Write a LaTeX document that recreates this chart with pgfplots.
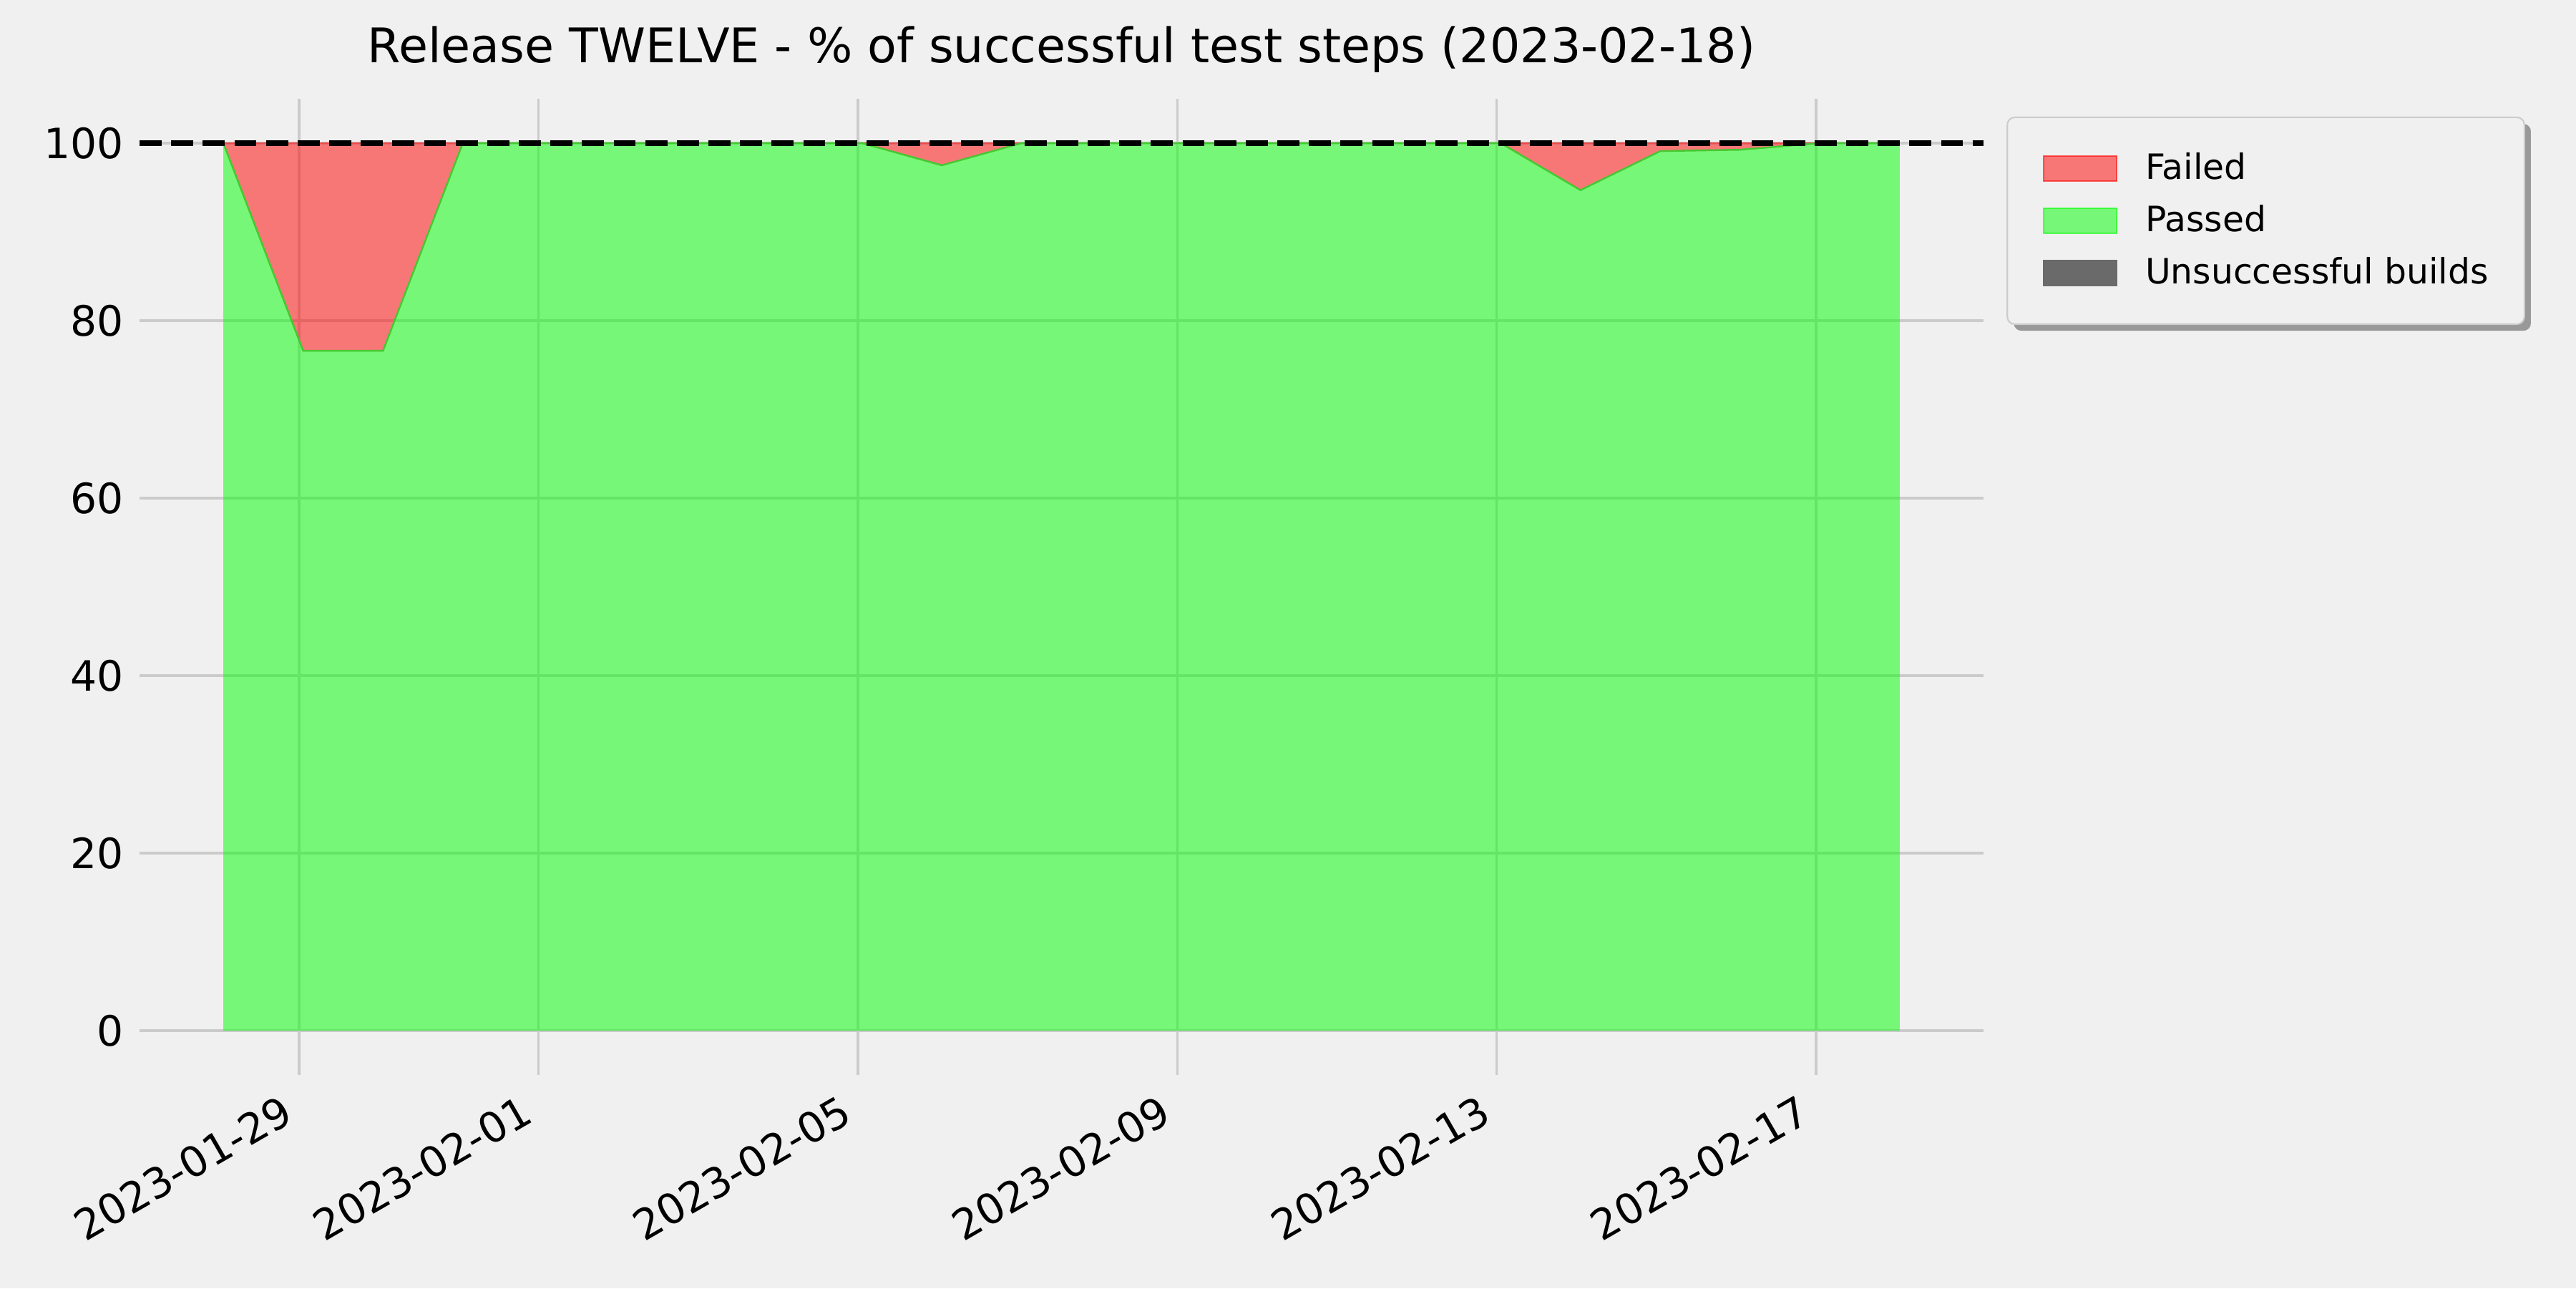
\documentclass[border=0pt]{standalone}
\usepackage{fontspec}
\setmainfont{DejaVu Sans}
\usepackage{xcolor}
\usepackage{pgfplots}
\pgfplotsset{compat=1.18}
\usepackage{pgfplotstable}
\usepgfplotslibrary{fillbetween}
\usetikzlibrary{shadows}
\definecolor{bg}{RGB}{240,240,240}
\definecolor{gridc}{RGB}{203,203,203}
\definecolor{limec}{RGB}{0,255,0}
\definecolor{redc}{RGB}{255,0,0}
\definecolor{passedge}{RGB}{70,200,50}
\definecolor{failedge}{RGB}{235,75,75}
\definecolor{unsucc}{RGB}{106,106,106}
\definecolor{legedge}{RGB}{204,204,204}
\definecolor{shadowc}{RGB}{153,153,153}
\pagecolor{bg}
\makeatletter
\tikzset{no preactions/.code={\let\tikz@preactions\pgfutil@empty}}
\makeatother

% x = days since 2023-01-29 00:00
\pgfplotstableread{
x      passed total zero
-0.95  100    100   0
0.05   76.6   100   0
1.05   76.6   100   0
2.05   100    100   0
3.05   100    100   0
4.05   100    100   0
5.05   100    100   0
6.05   100    100   0
7.05   100    100   0
8.05   97.5   100   0
9.05   100    100   0
10.05  100    100   0
11.05  100    100   0
12.05  100    100   0
13.05  100    100   0
14.05  100    100   0
15.05  100    100   0
16.05  94.7   100   0
17.05  99.1   100   0
18.05  99.25  100   0
19.05  100    100   0
20.05  100    100   0
}\data

\begin{document}%
\begin{tikzpicture}[x=1pt,y=1pt]
\begin{axis}[
  at={(46.8pt,71.5pt)}, anchor=south west,
  scale only axis, width=618.5pt, height=327.4pt,
  xmin=-2.0, xmax=21.1, ymin=-5, ymax=105,
  xtick={0,3,7,11,15,19},
  xticklabels={2023-01-29,2023-02-01,2023-02-05,2023-02-09,2023-02-13,2023-02-17},
  ytick={0,20,40,60,80,100},
  grid=major,
  major grid style={draw=gridc, line width=0.8pt},
  axis line style={draw=none},
  major tick length=0pt,
  tick style={draw=none},
  tick label style={font=\fontsize{14}{16}\selectfont},
  /pgf/number format/assume math mode=true,
  yticklabel style={anchor=east, inner sep=0pt, xshift=-5.2pt},
  xticklabel style={inner sep=0pt, xshift=-6.4pt, yshift=-6pt, rotate=30, anchor=north east},
  title={Release TWELVE - \% of successful test steps (2023-02-18)},
  title style={font=\fontsize{16}{19}\selectfont, at={(0.5,1)}, anchor=base, yshift=6pt},
  legend cell align=left,
  legend image code/.code={\draw[no preactions, sharp corners, #1, line width=0.5pt] (0pt,-4.2pt) rectangle (24.3pt,4.2pt);},
  legend style={at={(1,1)}, anchor=north west, xshift=7.7pt, yshift=-6pt,
    draw=legedge, line width=0.5pt, fill=bg, rounded corners=2.5pt,
    drop shadow={shadow xshift=2.2pt, shadow yshift=-2.2pt, fill=shadowc, opacity=1},
    inner xsep=12pt, inner ysep=12pt, row sep=7.1pt,
    font=\fontsize{11.7}{14}\selectfont,
    nodes={inner sep=0pt},
    /tikz/every odd column/.append style={column sep=9.5pt}},
]
\addlegendimage{fill=redc, fill opacity=0.5, draw=redc, draw opacity=0.6}
\addlegendentry{Failed}
\addlegendimage{fill=limec, fill opacity=0.5, draw=limec, draw opacity=0.6}
\addlegendentry{Passed}
\addlegendimage{fill=unsucc, draw=unsucc}
\addlegendentry{Unsuccessful builds}

\addplot[name path=zero, draw=none, forget plot] table[x=x, y=zero] {\data};
\addplot[name path=passed, draw=none, forget plot] table[x=x, y=passed] {\data};
\addplot[name path=total, draw=none, forget plot] table[x=x, y=total] {\data};
\addplot[fill=limec, fill opacity=0.5, forget plot] fill between[of=passed and zero];
\addplot[fill=redc, fill opacity=0.5, forget plot] fill between[of=total and passed];
\addplot[draw=failedge, line width=0.6pt, forget plot] table[x=x, y=total] {\data};
\addplot[draw=passedge, line width=0.6pt, forget plot] table[x=x, y=passed] {\data};
\addplot[draw=black, line width=2pt, dash pattern=on 7.4pt off 3.2pt, forget plot]
  coordinates {(-2.0,100) (21.1,100)};
\end{axis}
\pgfresetboundingbox
\path (0,0) rectangle (864,432);
\end{tikzpicture}%
\end{document}
